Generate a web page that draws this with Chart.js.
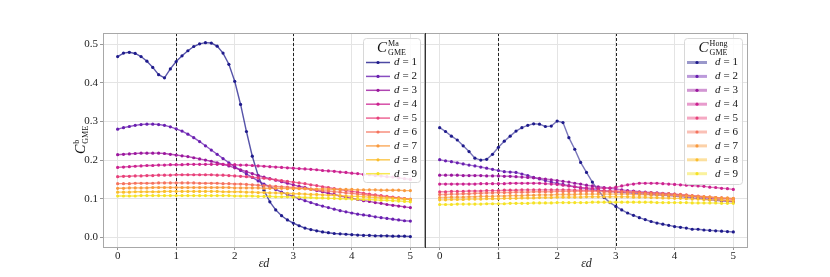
<!DOCTYPE html>
<html>
<head>
<meta charset="utf-8">
<script src="https://cdn.jsdelivr.net/npm/chart.js@4"></script>
<style>
body { margin: 0; background: #fff; }
#wrap { position: relative; width: 830px; height: 277px; }
canvas { position: absolute; top: 0; }
</style>
</head>
<body>
<div id="wrap">
  <canvas id="ma" width="426" height="277" style="left:0"></canvas>
  <canvas id="hong" width="405" height="277" style="left:425px"></canvas>
</div>
<script>
// epsilon*d grid (x values)
const epsD = [0, 0.1, 0.2, 0.3, 0.4, 0.5, 0.6, 0.7, 0.8, 0.9,
  1, 1.1, 1.2, 1.3, 1.4, 1.5, 1.6, 1.7, 1.8, 1.9,
  2, 2.1, 2.2, 2.3, 2.4, 2.5, 2.6, 2.7, 2.8, 2.9,
  3, 3.1, 3.2, 3.3, 3.4, 3.5, 3.6, 3.7, 3.8, 3.9,
  4, 4.1, 4.2, 4.3, 4.4, 4.5, 4.6, 4.7, 4.8, 4.9, 5];

const dLabels = ['1', '2', '3', '4', '5', '6', '7', '8', '9'];
const xTicks = [0, 1, 2, 3, 4, 5];
const yTicks = [0, 0.1, 0.2, 0.3, 0.4, 0.5];
const markLines = [1, 3];

// C^Ma_GME (left panel)
const maD1 = [0.468, 0.477, 0.479, 0.476, 0.468, 0.456, 0.440, 0.421, 0.413, 0.436,
  0.455, 0.470, 0.483, 0.494, 0.501, 0.504, 0.503, 0.495, 0.477, 0.448,
  0.404, 0.344, 0.274, 0.210, 0.160, 0.122, 0.092, 0.071, 0.056, 0.045,
  0.037, 0.030, 0.024, 0.020, 0.017, 0.014, 0.012, 0.010, 0.009, 0.008,
  0.007, 0.006, 0.005, 0.005, 0.004, 0.004, 0.004, 0.003, 0.003, 0.003, 0.002];
const maD2 = [0.280, 0.284, 0.287, 0.290, 0.292, 0.293, 0.293, 0.292, 0.290, 0.286,
  0.281, 0.275, 0.267, 0.258, 0.248, 0.237, 0.226, 0.215, 0.204, 0.193,
  0.183, 0.173, 0.164, 0.155, 0.146, 0.138, 0.131, 0.124, 0.117, 0.111,
  0.106, 0.100, 0.095, 0.090, 0.085, 0.081, 0.077, 0.073, 0.069, 0.066,
  0.063, 0.060, 0.058, 0.056, 0.053, 0.051, 0.049, 0.047, 0.045, 0.043, 0.042];
const maD3 = [0.214, 0.215, 0.216, 0.217, 0.218, 0.218, 0.218, 0.218, 0.217, 0.215,
  0.213, 0.211, 0.209, 0.206, 0.203, 0.200, 0.197, 0.193, 0.189, 0.185,
  0.180, 0.175, 0.170, 0.165, 0.160, 0.156, 0.152, 0.148, 0.144, 0.140,
  0.136, 0.132, 0.129, 0.125, 0.121, 0.118, 0.114, 0.111, 0.107, 0.104,
  0.101, 0.098, 0.095, 0.093, 0.090, 0.088, 0.085, 0.083, 0.081, 0.079, 0.077];
const maD4 = [0.181, 0.182, 0.183, 0.184, 0.185, 0.186, 0.186, 0.187, 0.187, 0.188,
  0.188, 0.188, 0.189, 0.189, 0.189, 0.189, 0.189, 0.189, 0.189, 0.188,
  0.188, 0.187, 0.187, 0.186, 0.185, 0.184, 0.183, 0.182, 0.181, 0.180,
  0.179, 0.178, 0.177, 0.176, 0.175, 0.173, 0.172, 0.171, 0.169, 0.168,
  0.166, 0.165, 0.163, 0.162, 0.160, 0.159, 0.157, 0.156, 0.154, 0.152, 0.150];
const maD5 = [0.157, 0.158, 0.158, 0.159, 0.159, 0.160, 0.160, 0.161, 0.161, 0.161,
  0.162, 0.162, 0.162, 0.162, 0.162, 0.162, 0.162, 0.161, 0.161, 0.160,
  0.159, 0.158, 0.157, 0.156, 0.154, 0.153, 0.151, 0.149, 0.147, 0.145,
  0.143, 0.141, 0.139, 0.136, 0.134, 0.131, 0.129, 0.126, 0.124, 0.121,
  0.119, 0.117, 0.114, 0.112, 0.110, 0.108, 0.106, 0.104, 0.102, 0.100, 0.098];
const maD6 = [0.139, 0.139, 0.139, 0.140, 0.140, 0.140, 0.140, 0.141, 0.141, 0.141,
  0.141, 0.141, 0.141, 0.141, 0.140, 0.140, 0.140, 0.140, 0.139, 0.139,
  0.138, 0.138, 0.137, 0.136, 0.135, 0.134, 0.133, 0.132, 0.131, 0.130,
  0.129, 0.127, 0.126, 0.124, 0.123, 0.121, 0.120, 0.118, 0.117, 0.115,
  0.114, 0.112, 0.111, 0.109, 0.108, 0.106, 0.105, 0.103, 0.102, 0.100, 0.099];
const maD7 = [0.127, 0.127, 0.128, 0.128, 0.128, 0.128, 0.129, 0.129, 0.129, 0.129,
  0.129, 0.129, 0.129, 0.129, 0.129, 0.129, 0.129, 0.129, 0.129, 0.129,
  0.128, 0.128, 0.128, 0.128, 0.128, 0.127, 0.127, 0.127, 0.127, 0.126,
  0.126, 0.126, 0.126, 0.125, 0.125, 0.125, 0.125, 0.124, 0.124, 0.124,
  0.124, 0.123, 0.123, 0.123, 0.123, 0.122, 0.122, 0.122, 0.122, 0.121, 0.121];
const maD8 = [0.117, 0.117, 0.117, 0.118, 0.118, 0.118, 0.118, 0.118, 0.119, 0.119,
  0.119, 0.119, 0.119, 0.119, 0.119, 0.119, 0.119, 0.119, 0.118, 0.118,
  0.118, 0.118, 0.117, 0.117, 0.116, 0.116, 0.115, 0.115, 0.114, 0.114,
  0.113, 0.113, 0.112, 0.111, 0.111, 0.110, 0.109, 0.109, 0.108, 0.107,
  0.106, 0.106, 0.105, 0.104, 0.103, 0.102, 0.102, 0.101, 0.100, 0.099, 0.098];
const maD9 = [0.107, 0.107, 0.107, 0.107, 0.108, 0.108, 0.108, 0.108, 0.108, 0.108,
  0.108, 0.108, 0.108, 0.108, 0.108, 0.108, 0.108, 0.108, 0.108, 0.108,
  0.107, 0.107, 0.107, 0.107, 0.106, 0.106, 0.106, 0.105, 0.105, 0.105,
  0.104, 0.104, 0.103, 0.103, 0.102, 0.102, 0.101, 0.101, 0.100, 0.100,
  0.099, 0.099, 0.098, 0.098, 0.097, 0.096, 0.096, 0.095, 0.094, 0.093, 0.092];

// C^Hong_GME (right panel)
const hongD1 = [0.284, 0.274, 0.262, 0.252, 0.237, 0.222, 0.205, 0.200, 0.202, 0.215,
  0.233, 0.249, 0.262, 0.275, 0.284, 0.290, 0.294, 0.293, 0.287, 0.288,
  0.301, 0.297, 0.258, 0.228, 0.194, 0.168, 0.143, 0.121, 0.103, 0.090,
  0.080, 0.071, 0.063, 0.057, 0.051, 0.046, 0.041, 0.037, 0.034, 0.031,
  0.028, 0.026, 0.024, 0.021, 0.021, 0.019, 0.018, 0.017, 0.016, 0.015, 0.014];
const hongD2 = [0.201, 0.198, 0.196, 0.193, 0.190, 0.187, 0.185, 0.182, 0.179, 0.176,
  0.173, 0.170, 0.169, 0.168, 0.164, 0.160, 0.155, 0.151, 0.147, 0.143,
  0.140, 0.137, 0.134, 0.131, 0.128, 0.126, 0.124, 0.122, 0.120, 0.119,
  0.117, 0.116, 0.115, 0.114, 0.113, 0.112, 0.111, 0.110, 0.109, 0.108,
  0.107, 0.105, 0.104, 0.102, 0.101, 0.099, 0.097, 0.096, 0.094, 0.093, 0.092];
const hongD3 = [0.161, 0.161, 0.161, 0.161, 0.160, 0.160, 0.160, 0.160, 0.159, 0.159,
  0.159, 0.158, 0.158, 0.157, 0.156, 0.155, 0.154, 0.153, 0.151, 0.149,
  0.147, 0.145, 0.143, 0.140, 0.138, 0.135, 0.133, 0.131, 0.129, 0.127,
  0.125, 0.123, 0.121, 0.120, 0.118, 0.117, 0.116, 0.115, 0.114, 0.113,
  0.112, 0.110, 0.109, 0.107, 0.105, 0.103, 0.101, 0.099, 0.097, 0.095, 0.093];
const hongD4 = [0.138, 0.138, 0.138, 0.138, 0.138, 0.138, 0.138, 0.139, 0.139, 0.139,
  0.139, 0.139, 0.140, 0.140, 0.140, 0.140, 0.140, 0.140, 0.139, 0.138,
  0.137, 0.135, 0.133, 0.131, 0.129, 0.128, 0.127, 0.127, 0.127, 0.128,
  0.130, 0.133, 0.136, 0.138, 0.140, 0.140, 0.140, 0.140, 0.139, 0.138,
  0.137, 0.136, 0.135, 0.134, 0.133, 0.132, 0.130, 0.129, 0.127, 0.126, 0.124];
const hongD5 = [0.118, 0.118, 0.119, 0.119, 0.119, 0.120, 0.120, 0.120, 0.121, 0.121,
  0.121, 0.122, 0.122, 0.122, 0.123, 0.123, 0.123, 0.123, 0.123, 0.123,
  0.123, 0.123, 0.123, 0.122, 0.122, 0.122, 0.121, 0.121, 0.121, 0.120,
  0.120, 0.119, 0.118, 0.117, 0.116, 0.115, 0.114, 0.113, 0.112, 0.111,
  0.110, 0.109, 0.108, 0.107, 0.106, 0.105, 0.104, 0.103, 0.102, 0.101, 0.100];
const hongD6 = [0.111, 0.111, 0.112, 0.112, 0.113, 0.113, 0.114, 0.114, 0.115, 0.115,
  0.116, 0.116, 0.116, 0.117, 0.117, 0.117, 0.118, 0.118, 0.118, 0.118,
  0.119, 0.119, 0.119, 0.119, 0.119, 0.119, 0.119, 0.119, 0.118, 0.118,
  0.118, 0.118, 0.117, 0.117, 0.116, 0.115, 0.115, 0.114, 0.113, 0.113,
  0.112, 0.111, 0.110, 0.108, 0.107, 0.105, 0.104, 0.102, 0.101, 0.099, 0.098];
const hongD7 = [0.103, 0.103, 0.104, 0.104, 0.104, 0.105, 0.105, 0.106, 0.106, 0.106,
  0.107, 0.107, 0.108, 0.108, 0.108, 0.109, 0.109, 0.110, 0.110, 0.110,
  0.111, 0.111, 0.111, 0.111, 0.112, 0.112, 0.112, 0.112, 0.112, 0.112,
  0.112, 0.112, 0.112, 0.111, 0.111, 0.111, 0.110, 0.110, 0.109, 0.109,
  0.108, 0.107, 0.107, 0.106, 0.105, 0.105, 0.104, 0.103, 0.102, 0.102, 0.101];
const hongD8 = [0.097, 0.097, 0.098, 0.098, 0.098, 0.099, 0.099, 0.099, 0.100, 0.100,
  0.100, 0.101, 0.101, 0.101, 0.102, 0.102, 0.102, 0.103, 0.103, 0.103,
  0.104, 0.104, 0.104, 0.104, 0.104, 0.105, 0.105, 0.105, 0.105, 0.105,
  0.105, 0.105, 0.105, 0.104, 0.104, 0.104, 0.103, 0.103, 0.102, 0.102,
  0.101, 0.101, 0.100, 0.099, 0.099, 0.098, 0.097, 0.097, 0.096, 0.095, 0.094];
const hongD9 = [0.085, 0.085, 0.085, 0.086, 0.086, 0.086, 0.086, 0.086, 0.087, 0.087,
  0.087, 0.087, 0.088, 0.088, 0.088, 0.088, 0.089, 0.089, 0.089, 0.089,
  0.090, 0.090, 0.090, 0.090, 0.090, 0.090, 0.091, 0.091, 0.091, 0.091,
  0.091, 0.091, 0.091, 0.091, 0.091, 0.091, 0.091, 0.090, 0.090, 0.090,
  0.090, 0.090, 0.090, 0.089, 0.089, 0.089, 0.089, 0.089, 0.088, 0.088, 0.088];

const palette = ['#1f1b8c', '#6a1fb0', '#9b179e', '#cc2290', '#e8407a',
  '#f5735e', '#f99a3e', '#fbbd2c', '#f5e225'];

const SERIF = '"Liberation Serif", "DejaVu Serif", serif';

function rgba(hex, a) {
  const n = parseInt(hex.slice(1), 16);
  return 'rgba(' + (n >> 16) + ',' + ((n >> 8) & 255) + ',' + (n & 255) + ',' + a + ')';
}

function makeDatasets(curves, lineAlpha) {
  return curves.map((vals, i) => ({
    label: 'd = ' + dLabels[i],
    data: epsD.map((x, k) => ({ x: x, y: vals[k] })),
    borderColor: rgba(palette[i], lineAlpha),
    borderWidth: 1.4,
    pointBackgroundColor: palette[i],
    pointBorderWidth: 0,
    pointRadius: 1.6,
    tension: 0,
    order: curves.length - i
  }));
}

// draw C^{sup}_{sub} centred on cx, baseline at by
function drawSymbol(ctx, cx, by, size, sup, sub) {
  ctx.font = 'italic ' + size + 'px ' + SERIF;
  const cw = ctx.measureText('C').width;
  const small = Math.round(size * 0.55);
  ctx.font = small + 'px ' + SERIF;
  const w = cw + 1 + Math.max(ctx.measureText(sup).width, ctx.measureText(sub).width);
  const x0 = cx - w / 2;
  ctx.textAlign = 'left';
  ctx.textBaseline = 'alphabetic';
  ctx.font = 'italic ' + size + 'px ' + SERIF;
  ctx.fillText('C', x0, by);
  ctx.font = small + 'px ' + SERIF;
  ctx.fillText(sup, x0 + cw + 1, by - size * 0.42);
  ctx.fillText(sub, x0 + cw + 1, by + size * 0.18);
}

const framePlugin = {
  id: 'frame',
  beforeDatasetsDraw(chart, args, o) {
    const ctx = chart.ctx, a = chart.chartArea, xs = chart.scales.x;
    ctx.save();
    ctx.strokeStyle = '#222';
    ctx.lineWidth = 1;
    ctx.setLineDash([3, 2]);
    markLines.forEach(v => {
      const px = Math.round(xs.getPixelForValue(v)) + 0.5;
      ctx.beginPath();
      ctx.moveTo(px, a.top);
      ctx.lineTo(px, a.bottom);
      ctx.stroke();
    });
    ctx.restore();
  },
  afterDraw(chart, args, o) {
    const ctx = chart.ctx, a = chart.chartArea;
    ctx.save();
    ctx.strokeStyle = '#a8a8a8';
    ctx.lineWidth = 1;
    ctx.strokeRect(a.left + 0.5, a.top + 0.5, a.right - a.left - 1, a.bottom - a.top);
    if (o.darkLeft) {
      ctx.strokeStyle = '#333';
      ctx.beginPath();
      ctx.moveTo(a.left + 0.5, a.top);
      ctx.lineTo(a.left + 0.5, a.bottom + 1);
      ctx.stroke();
    }
    if (o.yTitle) {
      ctx.fillStyle = '#111';
      ctx.translate(a.left - 18, (a.top + a.bottom) / 2);
      ctx.rotate(-Math.PI / 2);
      drawSymbol(ctx, 0, 0, 14, 'b', 'GME');
    }
    ctx.restore();
  }
};

const legendPlugin = {
  id: 'texLegend',
  afterDraw(chart, args, o) {
    const ctx = chart.ctx, a = chart.chartArea;
    const bx = a.right - o.right - o.width, by = a.top + 5;
    ctx.save();
    ctx.fillStyle = 'rgba(255,255,255,0.85)';
    ctx.strokeStyle = '#d8d8d8';
    ctx.lineWidth = 1;
    ctx.beginPath();
    ctx.roundRect(bx + 0.5, by + 0.5, o.width, o.height, 3);
    ctx.fill();
    ctx.stroke();
    ctx.fillStyle = '#111';
    drawSymbol(ctx, bx + o.width / 2, by + 14, 15, o.sup, 'GME');
    chart.data.datasets.forEach((ds, i) => {
      const y = by + 24.5 + i * 13.9;
      ctx.strokeStyle = rgba(palette[i], o.alpha);
      ctx.lineWidth = o.lineWidth;
      ctx.beginPath();
      ctx.moveTo(bx + 3, y);
      ctx.lineTo(bx + 3 + o.sample, y);
      ctx.stroke();
      ctx.fillStyle = palette[i];
      ctx.beginPath();
      ctx.arc(bx + 3 + o.sample / 2, y, 1.6, 0, Math.PI * 2);
      ctx.fill();
      ctx.fillStyle = '#111';
      ctx.textBaseline = 'middle';
      ctx.textAlign = 'left';
      ctx.font = 'italic 11px ' + SERIF;
      const tx = bx + o.textX;
      ctx.fillText('d', tx, y);
      const dw = ctx.measureText('d').width;
      ctx.font = '11px ' + SERIF;
      ctx.fillText('= ' + dLabels[i], tx + dw + 3, y);
    });
    ctx.restore();
  }
};

function buildChart(id, curves, cfg) {
  return new Chart(document.getElementById(id), {
    type: 'line',
    data: { datasets: makeDatasets(curves, cfg.lineAlpha) },
    plugins: [framePlugin, legendPlugin],
    options: {
      responsive: false,
      animation: false,
      events: [],
      layout: { autoPadding: false, padding: { top: 33, right: cfg.padRight, left: 0, bottom: 0 } },
      plugins: {
        legend: { display: false },
        tooltip: { enabled: false },
        frame: { darkLeft: cfg.darkLeft, yTitle: cfg.yTitle },
        texLegend: cfg.legend
      },
      scales: {
        x: {
          type: 'linear',
          min: -0.25,
          max: 5.25,
          afterBuildTicks: s => { s.ticks = xTicks.map(v => ({ value: v })); },
          afterFit: s => { s.height = 30; s.paddingLeft = 0; s.paddingRight = 0; },
          border: { display: false },
          grid: { color: '#e4e4e4', lineWidth: 1, tickLength: 3, tickColor: '#999' },
          ticks: { color: '#222', padding: 0, maxRotation: 0, font: { family: SERIF, size: 11 },
            callback: v => String(v) },
          title: { display: true, text: 'εd', color: '#222', padding: { top: 0, bottom: 6 },
            font: { family: SERIF, size: 12, style: 'italic' } }
        },
        y: {
          min: -0.025,
          max: 0.529,
          afterBuildTicks: s => { s.ticks = yTicks.map(v => ({ value: v })); },
          afterFit: s => { s.width = cfg.yWidth; s.paddingTop = 0; s.paddingBottom = 0; },
          border: { display: false },
          grid: { color: '#e4e4e4', lineWidth: 1, tickLength: 3, tickColor: '#999', drawTicks: cfg.yLabels },
          ticks: { display: cfg.yLabels, color: '#222', padding: 2, font: { family: SERIF, size: 11 },
            callback: v => v.toFixed(1) }
        }
      }
    }
  });
}

buildChart('ma', [maD1, maD2, maD3, maD4, maD5, maD6, maD7, maD8, maD9], {
  lineAlpha: 0.75, padRight: 1, yWidth: 103, yLabels: true, darkLeft: false, yTitle: true,
  legend: { sup: 'Ma', width: 57, height: 144, right: 5, sample: 24, textX: 31, lineWidth: 1.5, alpha: 0.8 }
});

buildChart('hong', [hongD1, hongD2, hongD3, hongD4, hongD5, hongD6, hongD7, hongD8, hongD9], {
  lineAlpha: 0.6, padRight: 82, yWidth: 0, yLabels: false, darkLeft: true, yTitle: false,
  legend: { sup: 'Hong', width: 58, height: 146, right: 6, sample: 20, textX: 31, lineWidth: 3, alpha: 0.45 }
});
</script>
</body>
</html>
